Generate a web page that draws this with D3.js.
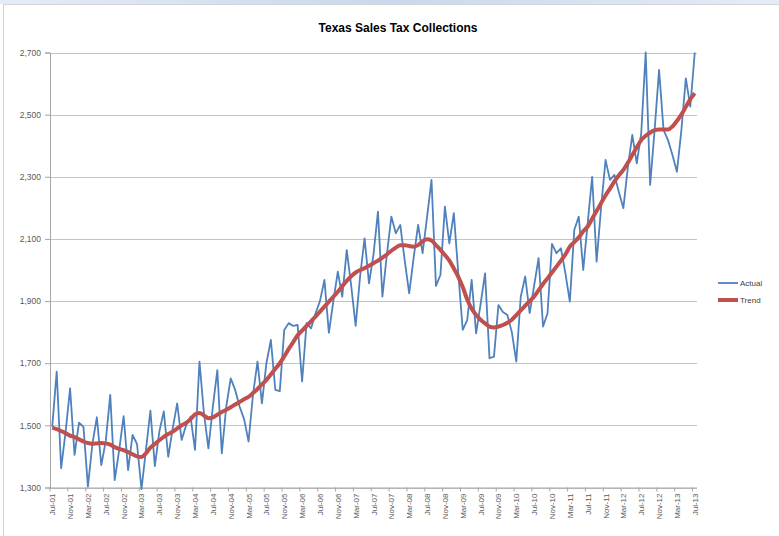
<!DOCTYPE html>
<html>
<head>
<meta charset="utf-8">
<script src="https://cdn.jsdelivr.net/npm/d3@7"></script>
<style>
  html, body { margin: 0; padding: 0; background: #fff; }
  svg { display: block; font-family: "Liberation Sans", Arial, sans-serif; }
</style>
</head>
<body>
<svg id="chart" width="779" height="536"></svg>
<script>
// ---- data (values in $ millions) ----
const title = "Texas Sales Tax Collections";
const seriesNames = ["Actual", "Trend"];
const startMonth = new Date(2001, 6, 1); // Jul-01
const actual = [
  1495,1673,1362,1480,1619,1405,1509,1495,1303,1440,1526,1372,
  1450,1598,1324,1420,1530,1356,1469,1440,1295,1420,1547,1369,
  1480,1545,1399,1490,1571,1453,1500,1528,1421,1705,1539,1426,
  1560,1678,1410,1560,1651,1614,1560,1520,1448,1600,1705,1571,
  1700,1775,1614,1610,1807,1829,1820,1823,1641,1829,1812,1860,
  1900,1968,1798,1900,1995,1914,2064,1950,1820,1980,2102,1957,
  2050,2188,1914,2050,2172,2118,2145,2030,1925,2040,2145,2054,
  2170,2290,1949,1984,2204,2086,2183,1990,1807,1839,1968,1796,
  1890,1989,1716,1721,1887,1865,1855,1800,1705,1914,1979,1861,
  1950,2038,1818,1861,2084,2054,2070,1990,1898,2129,2172,2000,
  2150,2300,2027,2200,2354,2290,2306,2250,2199,2330,2435,2343,
  2440,2700,2274,2450,2644,2451,2418,2370,2316,2450,2617,2526,
  2700
];
const trend = [
  1493,1488,1482,1475,1467,1462,1455,1448,1443,1441,1442,1443,
  1442,1438,1430,1424,1420,1414,1407,1400,1398,1410,1428,1440,
  1452,1463,1472,1480,1490,1500,1508,1520,1535,1540,1532,1523,
  1526,1534,1543,1550,1558,1567,1575,1584,1592,1604,1617,1632,
  1646,1664,1682,1700,1722,1746,1768,1790,1805,1820,1835,1850,
  1866,1882,1898,1914,1930,1948,1965,1980,1992,2000,2006,2014,
  2022,2030,2040,2050,2062,2072,2080,2080,2077,2075,2080,2092,
  2099,2095,2080,2065,2048,2030,2005,1978,1945,1905,1875,1855,
  1840,1828,1818,1815,1818,1823,1830,1840,1855,1870,1885,1900,
  1915,1935,1955,1973,1992,2011,2030,2050,2075,2090,2105,2125,
  2140,2165,2190,2215,2240,2262,2285,2305,2322,2345,2370,2395,
  2418,2432,2442,2450,2452,2452,2452,2462,2480,2500,2525,2550,
  2569
];
const xTickLabels = [
  "Jul-01","Nov-01","Mar-02","Jul-02","Nov-02","Mar-03","Jul-03","Nov-03",
  "Mar-04","Jul-04","Nov-04","Mar-05","Jul-05","Nov-05","Mar-06","Jul-06",
  "Nov-06","Mar-07","Jul-07","Nov-07","Mar-08","Jul-08","Nov-08","Mar-09",
  "Jul-09","Nov-09","Mar-10","Jul-10","Nov-10","Mar-11","Jul-11","Nov-11",
  "Mar-12","Jul-12","Nov-12","Mar-13","Jul-13"
];
const yTicks = [1300, 1500, 1700, 1900, 2100, 2300, 2500, 2700];

// ---- categories ----
const fmt = d3.timeFormat("%b-%y");
const categories = actual.map((_, i) => fmt(d3.timeMonth.offset(startMonth, i)));

// ---- layout ----
const svg = d3.select("#chart");
const W = 779, H = 536;
const plot = { left: 50, right: 697, top: 52.5, bottom: 487.5 };

// frame (screenshot border)
const defs = svg.append("defs");
const g1 = defs.append("linearGradient").attr("id", "topgrad").attr("x1", 0).attr("x2", 1);
g1.append("stop").attr("offset", "0%").attr("stop-color", "#e4ecf7");
g1.append("stop").attr("offset", "50%").attr("stop-color", "#c9d8ee");
g1.append("stop").attr("offset", "100%").attr("stop-color", "#e4ecf7");
svg.append("rect").attr("x", 0).attr("y", 0).attr("width", W).attr("height", 4).attr("fill", "url(#topgrad)");
svg.append("line").attr("x1", 3.5).attr("x2", 3.5).attr("y1", 4).attr("y2", H).attr("stroke", "#d4d4d4");
svg.append("line").attr("x1", 3).attr("x2", W).attr("y1", 4.5).attr("y2", 4.5).attr("stroke", "#d4d4d4");

const x = d3.scaleBand().domain(categories).range([plot.left, plot.right]).paddingInner(0).paddingOuter(0);
const cx = c => x(c) + x.bandwidth() / 2;
const y = d3.scaleLinear().domain([1300, 2700]).range([plot.bottom, plot.top]);

// gridlines
svg.append("g").selectAll("line").data(yTicks).join("line")
  .attr("x1", plot.left).attr("x2", plot.right)
  .attr("y1", d => Math.round(y(d)) + 0.5).attr("y2", d => Math.round(y(d)) + 0.5)
  .attr("stroke", "#c4c4c4").attr("stroke-width", 1.2);

// y axis
const yAxis = d3.axisLeft(y).tickValues(yTicks).tickFormat(d3.format(",")).tickSize(5).tickPadding(4);
const ya = svg.append("g").attr("transform", `translate(${plot.left},0)`).call(yAxis);
ya.select(".domain").attr("stroke", "#a6a6a6");
ya.selectAll(".tick line").attr("stroke", "#a6a6a6");
ya.selectAll("text").attr("fill", "#595959").style("font-size", "8.5px");

// x axis
const xa = svg.append("g").attr("transform", `translate(0,${plot.bottom})`);
xa.append("line").attr("x1", plot.left).attr("x2", plot.right).attr("y1", 0.5).attr("y2", 0.5).attr("stroke", "#a6a6a6");
const tickCats = categories.filter(c => xTickLabels.includes(c));
xa.selectAll("line.tk").data(tickCats).join("line").attr("class", "tk")
  .attr("x1", d => x(d)).attr("x2", d => x(d)).attr("y1", 0).attr("y2", 4)
  .attr("stroke", "#a6a6a6");
xa.selectAll("text").data(xTickLabels).join("text")
  .attr("transform", d => `translate(${cx(d) + 3},6) rotate(-90)`)
  .attr("text-anchor", "end")
  .attr("fill", "#595959")
  .style("font-size", "8px")
  .text(d => d);

// lines
const line = d3.line().x((d, i) => cx(categories[i])).y(d => y(d));
svg.append("path").datum(actual).attr("d", line)
  .attr("fill", "none").attr("stroke", "#4f81bd").attr("stroke-width", 1.8).attr("stroke-linejoin", "round");
svg.append("path").datum(trend).attr("d", d3.line().curve(d3.curveMonotoneX).x((d, i) => cx(categories[i])).y(d => y(d)))
  .attr("fill", "none").attr("stroke", "#c0504d").attr("stroke-width", 4).attr("stroke-linejoin", "round");

// title
svg.append("text").attr("x", 398).attr("y", 32).attr("text-anchor", "middle")
  .style("font-size", "12px").style("font-weight", "bold").attr("fill", "#000").text(title);

// legend
const lg = svg.append("g").attr("transform", "translate(718,0)");
const legendStyles = [{ color: "#4f81bd", w: 1.8, y: 283 }, { color: "#c0504d", w: 4, y: 300 }];
seriesNames.forEach((name, k) => {
  lg.append("line").attr("x1", 0).attr("x2", 20).attr("y1", legendStyles[k].y).attr("y2", legendStyles[k].y)
    .attr("stroke", legendStyles[k].color).attr("stroke-width", legendStyles[k].w);
  lg.append("text").attr("x", 22).attr("y", legendStyles[k].y + 3).style("font-size", "8px")
    .attr("fill", "#404040").text(name);
});
</script>
</body>
</html>
